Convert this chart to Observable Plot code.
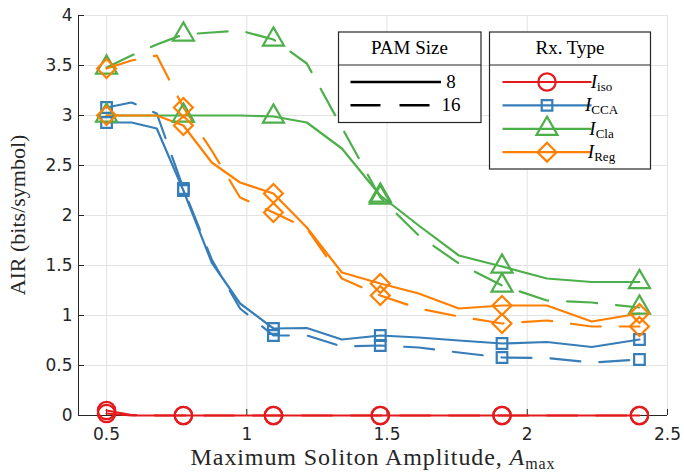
<!DOCTYPE html>
<html><head><meta charset="utf-8">
<script src="https://cdn.jsdelivr.net/npm/d3@7"></script>
<script src="https://cdn.jsdelivr.net/npm/@observablehq/plot@0.6"></script>
<style>body{margin:0;background:#fff} #chart{width:684px;height:474px}</style>
</head><body><div id="chart"></div>
<script>
// ---- data ----
const amax = [0.5, 0.589, 0.679, 0.774, 0.875, 0.976, 1.095, 1.214, 1.339, 1.476, 1.613, 1.756, 1.91, 2.07, 2.23, 2.40];
const markerIdx = [0, 3, 6, 9, 12, 15];
const iso8  = [0.02, 0, 0, 0, 0, 0, 0, 0, 0, 0, 0, 0, 0, 0, 0, 0];
const iso16 = [0.05, 0.005, 0, 0, 0, 0, 0, 0, 0, 0, 0, 0, 0, 0, 0, 0];
const cca8  = [2.93, 2.93, 2.87, 2.25, 1.53, 1.12, 0.87, 0.875, 0.76, 0.80, 0.78, 0.75, 0.72, 0.735, 0.685, 0.76];
const cca16 = [3.08, 3.13, 3.02, 2.27, 1.56, 1.07, 0.80, 0.80, 0.69, 0.70, 0.68, 0.63, 0.58, 0.575, 0.53, 0.56];
const cla8  = [3.0, 3.0, 3.0, 3.0, 3.0, 3.0, 2.99, 2.93, 2.67, 2.2, 1.9, 1.60, 1.49, 1.37, 1.335, 1.335];
const cla16 = [3.48, 3.6, 3.71, 3.81, 3.83, 3.85, 3.76, 3.52, 2.88, 2.18, 1.80, 1.52, 1.30, 1.15, 1.13, 1.08];
const reg8  = [3.0, 3.0, 3.0, 2.9, 2.53, 2.33, 2.22, 1.88, 1.43, 1.32, 1.22, 1.07, 1.10, 1.10, 0.94, 1.02];
const reg16 = [3.47, 3.55, 3.60, 3.08, 2.65, 2.18, 2.03, 1.87, 1.37, 1.20, 1.07, 0.99, 0.92, 0.95, 0.89, 0.89];
const xTicks = [0.5, 1, 1.5, 2, 2.5];
const yTicks = [0, 0.5, 1, 1.5, 2, 2.5, 3, 3.5, 4];
const types = ["iso", "CCA", "Cla", "Reg"];
const pamSizes = ["8", "16"];

// ---- styles ----
const colors = {iso: "#e41a1c", CCA: "#377eb8", Cla: "#4daf4a", Reg: "#ff7f00"};
const symbols = {iso: "circle", CCA: "square", Cla: "triangle", Reg: "diamond2"};
const radii = {iso: 8.7, CCA: 6.0, Cla: 7.8, Reg: 8.5};
const dash = {"8": null, "16": "30,19"};
const axisColor = "#262626";
const gridColor = "#e3e3e3";

const seriesValues = {
  iso: {"8": iso8, "16": iso16},
  CCA: {"8": cca8, "16": cca16},
  Cla: {"8": cla8, "16": cla16},
  Reg: {"8": reg8, "16": reg16}
};

const lineMarks = [];
const dotMarks = [];
for (const t of types) {
  for (const p of pamSizes) {
    const rows = amax.map((x, i) => ({x, y: seriesValues[t][p][i], i}));
    lineMarks.push(Plot.line(rows, {x: "x", y: "y", stroke: colors[t], strokeWidth: 2.2,
      strokeDasharray: dash[p], strokeLinejoin: "round"}));
    dotMarks.push(Plot.dot(rows.filter(d => markerIdx.includes(d.i)), {x: "x", y: "y",
      symbol: symbols[t], r: radii[t], stroke: colors[t], fill: "none", strokeWidth: 2.2}));
  }
}

const xTickLen = 6 / 280, yTickLen = 0.06;

const chart = Plot.plot({
  width: 684, height: 474,
  marginLeft: 78, marginRight: 17, marginTop: 15, marginBottom: 59,
  style: {fontFamily: "DejaVu Sans", fontSize: "17px", color: axisColor, background: "#fff"},
  x: {domain: [0.4, 2.5]},
  y: {domain: [0, 4]},
  marks: [
    Plot.gridX(xTicks, {stroke: gridColor, strokeOpacity: 1, strokeWidth: 1}),
    Plot.gridY(yTicks, {stroke: gridColor, strokeOpacity: 1, strokeWidth: 1}),
    Plot.axisX(xTicks, {tickSize: 0, tickPadding: 12, label: null, tickFormat: d => String(d), fontSize: 17, fill: axisColor}),
    Plot.axisY(yTicks, {tickSize: 0, tickPadding: 6, label: null, tickFormat: d => String(d), fontSize: 17, fill: axisColor}),
    Plot.ruleY([0], {stroke: axisColor, strokeWidth: 1}),
    Plot.ruleX([0.4], {stroke: axisColor, strokeWidth: 1}),
    Plot.ruleX(xTicks, {x: d => d, y1: 0, y2: yTickLen, stroke: axisColor}),
    Plot.ruleY(yTicks, {y: d => d, x1: 0.4, x2: 0.4 + xTickLen, stroke: axisColor}),
    ...lineMarks,
    ...dotMarks
  ]
});
document.getElementById("chart").appendChild(chart);

// ---- axis labels & legends ----
const svg = d3.select(chart);
const serif = "Liberation Serif";

const xl = svg.append("text").attr("x", 373).attr("y", 465).attr("text-anchor", "middle")
  .attr("font-family", serif).attr("font-size", 24).attr("letter-spacing", 0.9).attr("fill", axisColor);
xl.append("tspan").text("Maximum Soliton Amplitude, ");
xl.append("tspan").attr("font-style", "italic").text("A");
xl.append("tspan").attr("font-size", 16).attr("dy", 4).text("max");

svg.append("text").attr("transform", "translate(25,215) rotate(-90)").attr("text-anchor", "middle")
  .attr("font-family", serif).attr("font-size", 22).attr("fill", axisColor).text("AIR (bits/symbol)");

const lg = svg.append("g").attr("font-family", serif).attr("fill", "#000");
// PAM Size box
lg.append("rect").attr("x", 338.5).attr("y", 32).attr("width", 142.5).attr("height", 90.5)
  .attr("fill", "#fff").attr("stroke", axisColor).attr("stroke-width", 1.2);
lg.append("line").attr("x1", 338.5).attr("x2", 481).attr("y1", 65).attr("y2", 65).attr("stroke", axisColor).attr("stroke-width", 1.2);
lg.append("text").attr("x", 409.5).attr("y", 54).attr("text-anchor", "middle").attr("font-size", 19).text("PAM Size");
pamSizes.forEach((p, k) => {
  const yy = 82 + k * 23.3;
  lg.append("line").attr("x1", 350.5).attr("x2", 441).attr("y1", yy).attr("y2", yy)
    .attr("stroke", "#000").attr("stroke-width", 2.4).attr("stroke-dasharray", dash[p]);
  lg.append("text").attr("x", 451).attr("y", yy + 6).attr("font-size", 19).text(p);
});
// Rx. Type box
lg.append("rect").attr("x", 489.5).attr("y", 32).attr("width", 161).attr("height", 137)
  .attr("fill", "#fff").attr("stroke", axisColor).attr("stroke-width", 1.2);
lg.append("line").attr("x1", 489.5).attr("x2", 650.5).attr("y1", 65).attr("y2", 65).attr("stroke", axisColor).attr("stroke-width", 1.2);
lg.append("text").attr("x", 570).attr("y", 54).attr("text-anchor", "middle").attr("font-size", 19).text("Rx. Type");
const d3sym = {circle: d3.symbolCircle, square: d3.symbolSquare, triangle: d3.symbolTriangle, diamond2: d3.symbolDiamond2};
types.forEach((t, k) => {
  const yy = 82 + k * 23.4;
  lg.append("line").attr("x1", 502.5).attr("x2", 591.5).attr("y1", yy).attr("y2", yy)
    .attr("stroke", colors[t]).attr("stroke-width", 2.2);
  lg.append("path").attr("transform", `translate(547,${yy})`)
    .attr("d", d3.symbol(d3sym[symbols[t]], Math.PI * radii[t] * radii[t])())
    .attr("fill", "none").attr("stroke", colors[t]).attr("stroke-width", 2.2);
  const tx = lg.append("text").attr("x", 601.5).attr("y", yy + 6).attr("font-size", 19);
  tx.append("tspan").attr("font-style", "italic").text("I");
  tx.append("tspan").attr("font-size", 13).attr("dy", 3).text(t);
});
</script>
</body></html>
